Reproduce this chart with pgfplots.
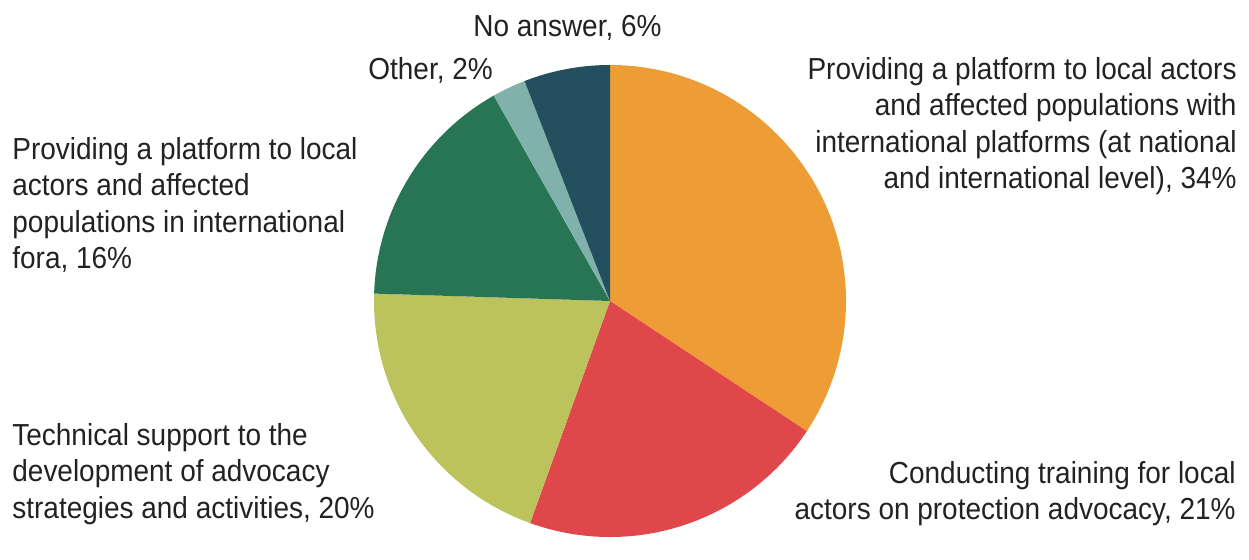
\documentclass[border=0pt]{standalone}
\usepackage{pgfplots}
\usepackage{pgfplotstable}
\pgfplotsset{compat=1.18}
\usepackage{fontspec}
\setmainfont[FakeStretch=0.92]{Liberation Sans}

\definecolor{cOrange}{HTML}{EE9D36}
\definecolor{cRed}{HTML}{E0474A}
\definecolor{cYellow}{HTML}{BCC35C}
\definecolor{cGreen}{HTML}{277554}
\definecolor{cTeal}{HTML}{80B1AA}
\definecolor{cBlue}{HTML}{234F5E}
\definecolor{txt}{HTML}{222222}

% slice shares (percent), clockwise from 12 o'clock
\pgfplotstableread{
value color
34.3 cOrange
21.2 cRed
20.0 cYellow
16.3 cGreen
2.3  cTeal
5.9  cBlue
}\piedata

\tikzset{lbl/.style={font=\fontsize{15.2}{18.2}\selectfont, text=txt, inner sep=0pt}}

\begin{document}
\begin{tikzpicture}
  \begin{axis}[
      width=624.5pt, height=268.5pt,
      scale only axis,
      xmin=0, xmax=1249,
      ymin=0, ymax=537,
      hide axis,
      clip=false,
    ]
    \path (axis cs:0,0) (axis cs:1249,537);
    \def\angstart{90}
    \pgfplotsforeachungrouped \i in {0,...,5}{
      \pgfplotstablegetelem{\i}{value}\of\piedata \let\v\pgfplotsretval
      \pgfplotstablegetelem{\i}{color}\of\piedata \let\c\pgfplotsretval
      \pgfmathsetmacro\angend{\angstart-3.6*\v}
      \edef\temp{\noexpand\fill[\c] (axis cs:610,236) -- ++(\angstart:118pt)
        arc[start angle=\angstart, end angle=\angend, radius=118pt] -- cycle;}
      \temp
      \global\let\angstart\angend
    }
    \node[lbl, anchor=north east, align=right] at (axis cs:1237,480)
      {Providing a platform to local actors\\and affected populations with\\international platforms (at national\\and international level), 34\%};
    \node[lbl, anchor=north east, align=right] at (axis cs:1236,76)
      {Conducting training for local\\actors on protection advocacy, 21\%};
    \node[lbl, anchor=north west, align=left] at (axis cs:12,114)
      {Technical support to the\\development of advocacy\\strategies and activities, 20\%};
    \node[lbl, anchor=north west, align=left] at (axis cs:12,400)
      {Providing a platform to local\\actors and affected\\populations in international\\fora, 16\%};
    \node[lbl, anchor=north west] at (axis cs:368,480) {Other, 2\%};
    \node[lbl, anchor=north] at (axis cs:567.5,522) {No answer, 6\%};
  \end{axis}
\end{tikzpicture}
\end{document}
